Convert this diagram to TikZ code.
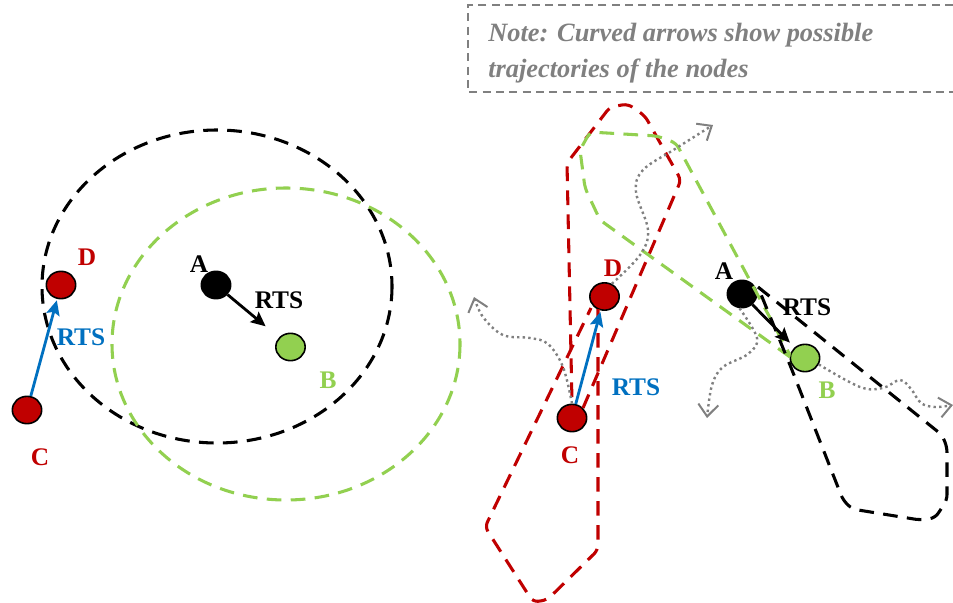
\documentclass[tikz,border=0pt]{standalone}
\usepackage{fontspec}
\setmainfont{Liberation Serif}
\usetikzlibrary{shapes.geometric,arrows.meta}
\definecolor{cred}{HTML}{C00000}
\definecolor{cgreen}{HTML}{92D050}
\definecolor{cblue}{HTML}{0070C0}
\definecolor{cgray}{HTML}{808080}
\begin{document}
\begin{tikzpicture}[x=0.75pt,y=-0.75pt,
  mnode/.style={ellipse,draw=black,line width=1.2pt,minimum width=22pt,minimum height=20.5pt,inner sep=0pt},
  lbl/.style={font=\fontsize{19}{22}\selectfont\bfseries,inner sep=0pt},
  region/.style={line width=2.3pt,dash pattern=on 11pt off 7pt,rounded corners=4pt},
  traj/.style={cgray,line width=1.8pt,dash pattern=on 1.8pt off 2.4pt,-{Straight Barb[length=9pt,width=15pt,line width=1.5pt]}},
  rts/.style={line width=2.1pt,-{Stealth[length=11pt,width=10pt,inset=2pt]}},
  notetxt/.style={anchor=base west,text=cgray,font=\fontsize{19.8}{22}\selectfont\bfseries\itshape,inner sep=0pt}
]
\path[use as bounding box] (0,0) rectangle (953,603);

% note box
\draw[cgray,line width=1.1pt,dash pattern=on 6pt off 4pt] (953,5) -- (468,5) -- (468,92) -- (953,92);
\node[notetxt] (note1) at (488,41) {Note: Curved arrows show possible};
\node[notetxt] (note2) at (488,77) {trajectories of the nodes};

% ---------- left scenario ----------
\draw[region,black] (217,286.5) ellipse [x radius=175, y radius=156.5];
\draw[region,cgreen] (286,344) ellipse [x radius=174, y radius=156];

\node[mnode,fill=black] (Al) at (216,285) {};
\node[mnode,fill=cgreen] (Bl) at (290.5,347) {};
\node[mnode,fill=cred] (Dl) at (61,285) {};
\node[mnode,fill=cred] (Cl) at (27,410) {};

\node[lbl,text=black] (lAl) at (199,264) {A};
\node[lbl,text=cgreen] (lBl) at (328,380) {B};
\node[lbl,text=cred] (lDl) at (87,257) {D};
\node[lbl,text=cred] (lCl) at (40,457) {C};

\draw[rts,black,shorten >=13pt] (Al) -- (Bl);
\node[lbl,text=black] (rtsl1) at (279,300) {RTS};
\draw[rts,cblue,shorten >=1pt] (Cl) -- (Dl);
\node[lbl,text=cblue] (rtsl2) at (81,337) {RTS};

% ---------- right scenario ----------
\node[mnode,fill=black] (Ar) at (742,294) {};
\node[mnode,fill=cgreen] (Br) at (805,358) {};
\node[mnode,fill=cred] (Dr) at (604.5,296.5) {};
\node[mnode,fill=cred] (Cr) at (572,418) {};

% regions
\draw[region,cred] (583,408) -- (681,180) -- (645,116) -- (628,104) -- (610,107) -- (567,163) -- (572,403);
\draw[region,cred] (598,309) -- (598,550) -- (547,600) -- (533,602) -- (485,527) -- (591,308);
\draw[region,cgreen] (790,357) -- (600,220) -- (585,188) -- (580,150) -- (590,132) -- (657,136) -- (676,143) -- (790,355);
\draw[region,black] (758,287) -- (942,435) -- (947,447) -- (947,500) -- (935,518) -- (920,520) -- (852,509) -- (843,500) -- (792,370) -- (760,292);

\node[lbl,text=black] (lAr) at (724,271) {A};
\node[lbl,text=cgreen] (lBr) at (827,390) {B};
\node[lbl,text=cred] (lDr) at (613,268) {D};
\node[lbl,text=cred] (lCr) at (570,455) {C};

\draw[rts,black,shorten >=5pt] (Ar) -- (Br);
\node[lbl,text=black] (rtsr1) at (807,307) {RTS};
\draw[rts,cblue,shorten >=1pt] (Cr) -- (Dr);
\node[lbl,text=cblue] (rtsr2) at (636,387) {RTS};

% trajectories
\coordinate (tD) at (713,125);
\coordinate (tC) at (474,297);
\coordinate (tA) at (707,418);
\coordinate (tB) at (953,405);
\draw[traj] plot[smooth,tension=0.6] coordinates {(Dr.60) (640,255) (648,230) (636,192) (643,170) (675,149) (tD)};
\draw[traj] plot[smooth,tension=0.6] coordinates {(Cr.north) (563,367) (548,344) (530,338) (503,335) (483,317) (tC)};
\draw[traj] plot[smooth,tension=0.6] coordinates {(Ar.-100) (757,338) (748,354) (723,367) (712,385) (tA)};
\draw[traj] plot[smooth,tension=0.6] coordinates {(Br.-25) (860,387) (883,388) (900,380) (911,389) (921,403) (935,407) (tB)};
\end{tikzpicture}
\end{document}
